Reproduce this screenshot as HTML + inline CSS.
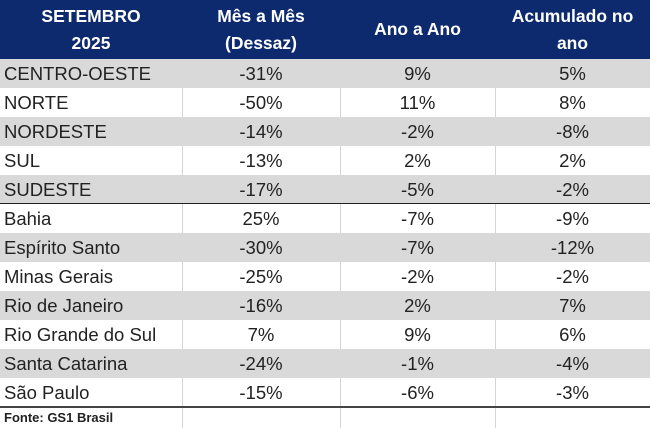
<!DOCTYPE html>
<html><head><style>
body{margin:0;width:650px;height:428px;overflow:hidden;background:#fff;font-family:"Liberation Sans",sans-serif;}
.hdr{position:absolute;left:0;top:0;width:650px;height:59px;background:#0e2a6e;color:#fff;font-weight:bold;font-size:17.5px;}
.hdr div{position:absolute;top:0;height:59px;display:flex;align-items:center;justify-content:center;text-align:center;line-height:27px;}
.row{position:absolute;left:0;width:650px;height:29px;font-size:18.5px;color:#222;}
.row.g{background:#d9d9d9;}
.row div{position:absolute;top:0;height:29px;line-height:29px;text-align:center;}
.row div.n{text-align:left;left:4px;}
.v{position:absolute;top:59px;width:1px;height:369px;background:#d4d4d4;}
</style></head><body>
<div class="v" style="left:182px"></div>
<div class="v" style="left:340px"></div>
<div class="v" style="left:495px"></div>
<div class="hdr">
<div style="left:0;width:182px">SETEMBRO<br>2025</div>
<div style="left:182px;width:158px">Mês a Mês<br>(Dessaz)</div>
<div style="left:340px;width:155px">Ano a Ano</div>
<div style="left:495px;width:155px">Acumulado no<br>ano</div>
</div>
<div class="row g" style="top:59px"><div class="n">CENTRO-OESTE</div><div style="left:182px;width:158px">-31%</div><div style="left:340px;width:155px">9%</div><div style="left:495px;width:155px">5%</div></div>
<div class="row" style="top:88px"><div class="n">NORTE</div><div style="left:182px;width:158px">-50%</div><div style="left:340px;width:155px">11%</div><div style="left:495px;width:155px">8%</div></div>
<div class="row g" style="top:117px"><div class="n">NORDESTE</div><div style="left:182px;width:158px">-14%</div><div style="left:340px;width:155px">-2%</div><div style="left:495px;width:155px">-8%</div></div>
<div class="row" style="top:146px"><div class="n">SUL</div><div style="left:182px;width:158px">-13%</div><div style="left:340px;width:155px">2%</div><div style="left:495px;width:155px">2%</div></div>
<div class="row g" style="top:175px"><div class="n">SUDESTE</div><div style="left:182px;width:158px">-17%</div><div style="left:340px;width:155px">-5%</div><div style="left:495px;width:155px">-2%</div></div>
<div style="position:absolute;left:0;top:203px;width:650px;height:1px;background:#222"></div>
<div class="row" style="top:204px"><div class="n">Bahia</div><div style="left:182px;width:158px">25%</div><div style="left:340px;width:155px">-7%</div><div style="left:495px;width:155px">-9%</div></div>
<div class="row g" style="top:233px"><div class="n">Espírito Santo</div><div style="left:182px;width:158px">-30%</div><div style="left:340px;width:155px">-7%</div><div style="left:495px;width:155px">-12%</div></div>
<div class="row" style="top:262px"><div class="n">Minas Gerais</div><div style="left:182px;width:158px">-25%</div><div style="left:340px;width:155px">-2%</div><div style="left:495px;width:155px">-2%</div></div>
<div class="row g" style="top:291px"><div class="n">Rio de Janeiro</div><div style="left:182px;width:158px">-16%</div><div style="left:340px;width:155px">2%</div><div style="left:495px;width:155px">7%</div></div>
<div class="row" style="top:320px"><div class="n">Rio Grande do Sul</div><div style="left:182px;width:158px">7%</div><div style="left:340px;width:155px">9%</div><div style="left:495px;width:155px">6%</div></div>
<div class="row g" style="top:349px"><div class="n">Santa Catarina</div><div style="left:182px;width:158px">-24%</div><div style="left:340px;width:155px">-1%</div><div style="left:495px;width:155px">-4%</div></div>
<div class="row" style="top:378px"><div class="n">São Paulo</div><div style="left:182px;width:158px">-15%</div><div style="left:340px;width:155px">-6%</div><div style="left:495px;width:155px">-3%</div></div>
<div style="position:absolute;left:0;top:406px;width:650px;height:2px;background:#444"></div>
<div style="position:absolute;left:4px;top:408px;height:20px;line-height:20px;font-size:13px;font-weight:bold;color:#222">Fonte: GS1 Brasil</div>
</body></html>
